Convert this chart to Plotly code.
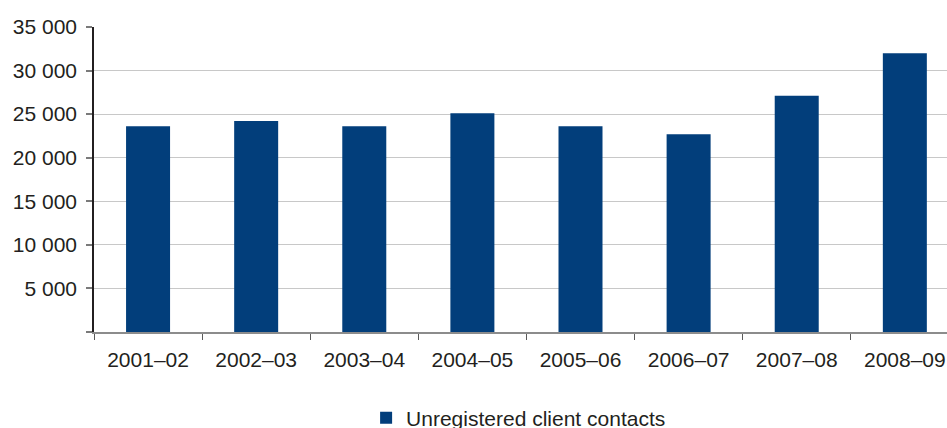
import plotly.graph_objects as go

# Annual unregistered client contacts
years = ["2001–02", "2002–03", "2003–04", "2004–05",
         "2005–06", "2006–07", "2007–08", "2008–09"]
contacts = [23600, 24200, 23600, 25100, 23600, 22700, 27100, 32000]

y_ticks = [0, 5000, 10000, 15000, 20000, 25000, 30000, 35000]
y_tick_text = ["", "5 000", "10 000", "15 000", "20 000", "25 000", "30 000", "35 000"]

BAR = "#023e7b"
TEXT = "#231f20"
FONT = "Liberation Sans, Arial, sans-serif"
FS = 21

fig = go.Figure(
    go.Bar(
        x=years,
        y=contacts,
        name="Unregistered client contacts",
        marker=dict(color=BAR, line=dict(width=0)),
        showlegend=True,
    )
)

fig.update_layout(
    width=947,
    height=428,
    margin=dict(l=94, r=0, t=27, b=96, autoexpand=False),
    paper_bgcolor="white",
    plot_bgcolor="white",
    bargap=0.593,
    font=dict(family=FONT, size=FS, color=TEXT),
    showlegend=True,
    legend=dict(
        orientation="h",
        x=0.319,
        xanchor="left",
        y=-0.282,
        yanchor="middle",
        font=dict(family=FONT, size=FS, color=TEXT),
        bgcolor="rgba(0,0,0,0)",
    ),
)

fig.update_xaxes(
    type="category",
    range=[-0.5, 7.39],
    automargin=False,
    showline=True,
    linecolor="#8c8c8c",
    linewidth=1.5,
    ticks="outside",
    tickson="boundaries",
    ticklen=6,
    tickcolor="#5a5a5a",
    tickwidth=1,
    showgrid=False,
    ticklabelstandoff=8,
    tickfont=dict(family=FONT, size=FS, color=TEXT),
)

fig.update_yaxes(
    range=[0, 35000],
    automargin=False,
    tickmode="array",
    tickvals=y_ticks,
    ticktext=y_tick_text,
    showgrid=True,
    gridcolor="#c8c8c8",
    gridwidth=1,
    zeroline=False,
    showline=True,
    linecolor=TEXT,
    linewidth=1.5,
    ticks="outside",
    ticklen=6,
    tickcolor="#7a7a7a",
    tickwidth=1.5,
    ticklabelstandoff=5,
    tickfont=dict(family=FONT, size=FS, color=TEXT),
)

fig.write_html("out.html")
